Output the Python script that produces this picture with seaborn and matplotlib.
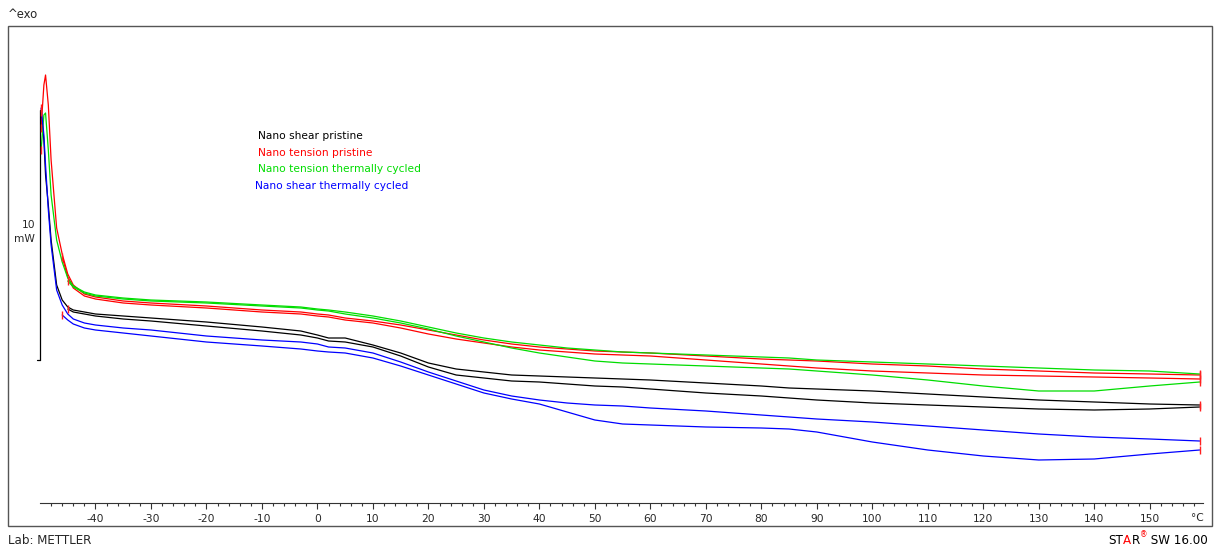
import numpy as np
import pandas as pd
import matplotlib
matplotlib.use("Agg")
import matplotlib.pyplot as plt
import seaborn as sns
from matplotlib.patches import Rectangle

# Temperature grid (°C) shared by all DSC curves
temperature_c = [-49.8, -49.3, -49.0, -48.5, -48.0, -47.0, -46.0, -45.0, -44.0, -42.0,
                 -40.0, -35.0, -30.0, -20.0, -10.0, -3.0, 0.0, 2.0, 5.0, 10.0,
                 15.0, 20.0, 25.0, 30.0, 35.0, 40.0, 45.0, 50.0, 55.0, 60.0,
                 70.0, 80.0, 85.0, 90.0, 100.0, 110.0, 120.0, 130.0, 140.0, 150.0, 159.0]

nan = np.nan

# Heat flow (mW), two runs per sample
shear_pristine_run1 = [9.92, 8.8, 7.4, 6.2, 4.8, 3.0, 2.4, 2.12, 2.0, 1.92,
                       1.84, 1.76, 1.68, 1.52, 1.32, 1.16, 1.0, 0.88, 0.88, 0.6,
                       0.28, -0.12, -0.36, -0.48, -0.6, -0.64, -0.68, -0.72, -0.76, -0.8,
                       -0.92, -1.04, -1.12, -1.16, -1.24, -1.36, -1.48, -1.6, -1.68, -1.76, -1.8]
shear_pristine_run2 = [nan, nan, nan, nan, nan, nan, nan, 2.04, 1.92, 1.84,
                       1.76, 1.64, 1.56, 1.36, 1.16, 1.0, 0.88, 0.76, 0.72, 0.52,
                       0.16, -0.28, -0.6, -0.72, -0.84, -0.88, -0.96, -1.04, -1.08, -1.16,
                       -1.32, -1.44, -1.52, -1.6, -1.72, -1.8, -1.88, -1.96, -2.0, -1.96, -1.88]

tension_pristine_run1 = [9.28, 11.0, 11.4, 10.2, 8.0, 5.28, 4.24, 3.44, 3.0, 2.64,
                         2.52, 2.36, 2.28, 2.16, 2.0, 1.92, 1.84, 1.8, 1.68, 1.56,
                         1.4, 1.2, 1.0, 0.8, 0.64, 0.52, 0.44, 0.36, 0.32, 0.28,
                         0.16, 0.04, 0.0, -0.04, -0.16, -0.24, -0.36, -0.44, -0.52, -0.56, -0.6]
tension_pristine_run2 = [nan, nan, nan, nan, nan, nan, 4.12, 3.32, 2.88, 2.56,
                         2.44, 2.28, 2.2, 2.08, 1.92, 1.84, 1.76, 1.72, 1.6, 1.48,
                         1.28, 1.04, 0.84, 0.68, 0.52, 0.4, 0.32, 0.24, 0.2, 0.16,
                         0.0, -0.16, -0.24, -0.32, -0.44, -0.52, -0.6, -0.64, -0.68, -0.72, -0.76]

tension_cycled_run1 = [8.4, 9.8, 9.88, 8.4, 6.6, 4.8, 3.92, 3.28, 2.96, 2.72,
                       2.6, 2.48, 2.4, 2.32, 2.2, 2.12, 2.04, 2.0, 1.92, 1.76,
                       1.56, 1.32, 1.08, 0.88, 0.72, 0.6, 0.48, 0.4, 0.32, 0.28,
                       0.2, 0.12, 0.08, 0.0, -0.08, -0.16, -0.24, -0.32, -0.4, -0.44, -0.56]
tension_cycled_run2 = [nan, nan, nan, nan, nan, nan, nan, 3.16, 2.92, 2.68,
                       2.56, 2.44, 2.36, 2.28, 2.16, 2.08, 2.0, 1.96, 1.84, 1.68,
                       1.48, 1.24, 0.96, 0.72, 0.48, 0.28, 0.12, -0.04, -0.12, -0.16,
                       -0.24, -0.32, -0.36, -0.44, -0.6, -0.8, -1.04, -1.24, -1.24, -1.04, -0.88]

shear_cycled_run1 = [10.08, 9.0, 7.8, 6.0, 4.6, 2.8, 2.2, 1.84, 1.64, 1.48,
                     1.4, 1.28, 1.2, 0.96, 0.8, 0.72, 0.64, 0.52, 0.48, 0.28,
                     -0.08, -0.48, -0.84, -1.2, -1.44, -1.6, -1.72, -1.8, -1.84, -1.92,
                     -2.04, -2.2, -2.28, -2.36, -2.48, -2.64, -2.8, -2.96, -3.08, -3.16, -3.24]
shear_cycled_run2 = [nan, nan, nan, nan, nan, nan, 1.8, 1.6, 1.44, 1.28,
                     1.2, 1.08, 0.96, 0.72, 0.56, 0.44, 0.36, 0.32, 0.28, 0.08,
                     -0.24, -0.6, -0.96, -1.32, -1.56, -1.76, -2.08, -2.4, -2.56, -2.6,
                     -2.68, -2.72, -2.76, -2.88, -3.28, -3.6, -3.84, -4.0, -3.96, -3.76, -3.6]

sample_names = ["Nano shear pristine", "Nano tension pristine",
                "Nano tension thermally cycled", "Nano shear thermally cycled"]
sample_colors = ["#000000", "#ff0000", "#00dd00", "#0000ff"]
sample_runs = [
    [shear_pristine_run1, shear_pristine_run2],
    [tension_pristine_run1, tension_pristine_run2],
    [tension_cycled_run1, tension_cycled_run2],
    [shear_cycled_run1, shear_cycled_run2],
]

x_ticks = [-40, -30, -20, -10, 0, 10, 20, 30, 40, 50, 60, 70,
           80, 90, 100, 110, 120, 130, 140, 150]
scale_bar_mw = 10

# Long-form table: one row per point, one line per (sample, run)
rows = []
for name, runs in zip(sample_names, sample_runs):
    for run_idx, values in enumerate(runs, start=1):
        for t, v in zip(temperature_c, values):
            rows.append({"Temperature": t, "Heat flow": v,
                         "Sample": name, "Run": f"{name} #{run_idx}"})
df = pd.DataFrame(rows).dropna()

sns.set_style("white")
plt.rcParams["font.family"] = ["DejaVu Sans"]

W, H = 1228, 549
fig = plt.figure(figsize=(W / 100, H / 100), dpi=100)
fig.patch.set_facecolor("white")

ax_left, ax_right, ax_top, ax_bottom = 40, 1203, 30, 503
ax = fig.add_axes([ax_left / W, 1 - ax_bottom / H,
                   (ax_right - ax_left) / W, (ax_bottom - ax_top) / H])
ax.set_facecolor("none")

palette = dict(zip(sample_names, sample_colors))
sns.lineplot(data=df, x="Temperature", y="Heat flow", hue="Sample", units="Run",
             estimator=None, sort=False, palette=palette, legend=False,
             linewidth=0.9, ax=ax)

# Red start / end brackets on each curve
for run_name, grp in df.groupby("Run", sort=False):
    ends = grp.iloc[[0, -1]]
    ax.plot(ends["Temperature"], ends["Heat flow"], ls="none", marker="|",
            color="#ff2020", ms=6, mew=1.0, zorder=5, clip_on=False)

tick_size = 7.7
ax.set_xlim(-50, 159.6)
ax.set_ylim(-5.72, 13.2)
ax.set_xlabel("")
ax.set_ylabel("")
ax.set_yticks([])
ax.set_xticks(x_ticks)
ax.set_xticklabels([str(t) for t in x_ticks])
ax.set_xticks(np.arange(-48, 160, 2), minor=True)
ax.tick_params(axis="x", which="major", direction="out", length=4, width=0.8,
               color="#333333", labelsize=tick_size, pad=4, bottom=True)
ax.tick_params(axis="x", which="minor", direction="out", length=2.5, width=0.8,
               color="#333333", bottom=True)
for side in ["left", "top", "right"]:
    ax.spines[side].set_visible(False)
ax.spines["bottom"].set_color("#333333")
ax.spines["bottom"].set_linewidth(0.8)

ax.annotate("°C", xy=(158.6, 0), xycoords=("data", "axes fraction"),
            xytext=(0, -11), textcoords="offset points",
            ha="center", va="center", fontsize=tick_size, annotation_clip=False)

# Vertical scale bar (10 mW)
ax.plot([-50, -50], [0, scale_bar_mw], color="#000000", lw=0.9, clip_on=False)
ax.plot([-50.6, -50], [0, 0], color="#000000", lw=0.9, clip_on=False)
ax.text(-50.9, scale_bar_mw / 2 + 0.12, f"{scale_bar_mw}\nmW", ha="right", va="center",
        multialignment="right", fontsize=tick_size, linespacing=1.45)

# Sample labels in their curve colours
label_y = [136, 153, 169, 186]
label_x = [258, 258, 258, 255]
for name, color, lx, ly in zip(sample_names, sample_colors, label_x, label_y):
    fig.text(lx / W, 1 - ly / H, name, color=color, fontsize=7.7,
             ha="left", va="center")

# Outer frame and captions
fig.patches.append(Rectangle((7.5 / W, 1 - 526 / H), (1211.5 - 7.5) / W, (526 - 25.5) / H,
                             transform=fig.transFigure, fill=False,
                             edgecolor="#555555", linewidth=1.0))
fig.text(8 / W, 1 - 14 / H, "^exo", fontsize=8.4, ha="left", va="center")
fig.text(8 / W, 1 - 540 / H, "Lab: METTLER", fontsize=8.6, ha="left", va="center")

# Software stamp, with the red letters
stamp_parts = [("ST", "#000000"), ("A", "#ff0000"), ("R", "#000000"),
               ("®", "#ff0000"), (" SW 16.00", "#000000")]
fig.canvas.draw()
renderer = fig.canvas.get_renderer()
widths = []
texts = []
for part, color in stamp_parts:
    size = 5.5 if part == "®" else 8.6
    t = fig.text(0, 1 - 540 / H, part, fontsize=size, color=color,
                 ha="left", va="center" if part != "®" else "bottom")
    widths.append(t.get_window_extent(renderer).width)
    texts.append(t)
x_cursor = 1208 - sum(widths)
for t, w in zip(texts, widths):
    t.set_x(x_cursor / W)
    x_cursor += w
texts[3].set_y(1 - 539 / H)

fig.savefig("out.png", dpi=100, facecolor="white")
